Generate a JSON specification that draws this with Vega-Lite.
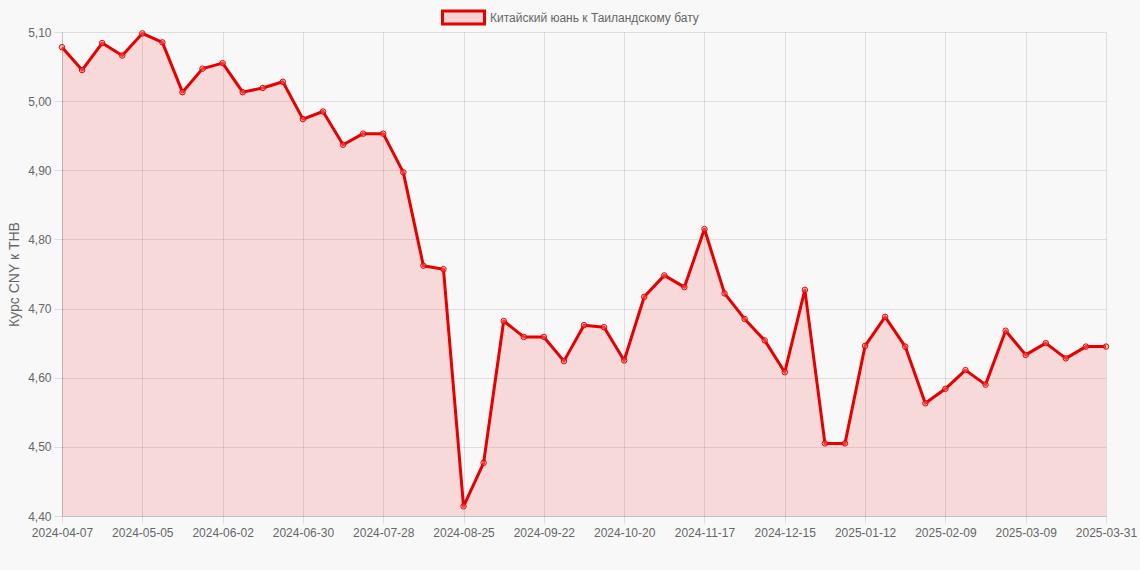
{
  "$schema": "https://vega.github.io/schema/vega-lite/v6.json",
  "width": 1044,
  "height": 484,
  "autosize": {"type": "none"},
  "padding": {"left": 62, "top": 32, "right": 34, "bottom": 54},
  "background": "#f8f8f8",
  "config": {
    "font": "Liberation Sans",
    "view": {"stroke": null},
    "axis": {
      "labelFont": "Liberation Sans",
      "labelFontSize": 12,
      "labelColor": "#666666",
      "titleFont": "Liberation Sans",
      "titleFontSize": 14,
      "titleFontWeight": "normal",
      "titleColor": "#666666",
      "gridColor": "#000000",
      "gridOpacity": 0.1,
      "tickColor": "#000000",
      "tickOpacity": 0.1,
      "domainColor": "#000000",
      "domainOpacity": 0.12
    }
  },
  "data": {
    "values": [
      {"date": "2024-04-07", "rate": 5.078, "series": "Китайский юань к Таиландскому бату"},
      {"date": "2024-04-14", "rate": 5.045, "series": "Китайский юань к Таиландскому бату"},
      {"date": "2024-04-21", "rate": 5.084, "series": "Китайский юань к Таиландскому бату"},
      {"date": "2024-04-28", "rate": 5.066, "series": "Китайский юань к Таиландскому бату"},
      {"date": "2024-05-05", "rate": 5.098, "series": "Китайский юань к Таиландскому бату"},
      {"date": "2024-05-12", "rate": 5.085, "series": "Китайский юань к Таиландскому бату"},
      {"date": "2024-05-19", "rate": 5.013, "series": "Китайский юань к Таиландскому бату"},
      {"date": "2024-05-26", "rate": 5.047, "series": "Китайский юань к Таиландскому бату"},
      {"date": "2024-06-02", "rate": 5.055, "series": "Китайский юань к Таиландскому бату"},
      {"date": "2024-06-09", "rate": 5.013, "series": "Китайский юань к Таиландскому бату"},
      {"date": "2024-06-16", "rate": 5.019, "series": "Китайский юань к Таиландскому бату"},
      {"date": "2024-06-23", "rate": 5.028, "series": "Китайский юань к Таиландскому бату"},
      {"date": "2024-06-30", "rate": 4.974, "series": "Китайский юань к Таиландскому бату"},
      {"date": "2024-07-07", "rate": 4.985, "series": "Китайский юань к Таиландскому бату"},
      {"date": "2024-07-14", "rate": 4.937, "series": "Китайский юань к Таиландскому бату"},
      {"date": "2024-07-21", "rate": 4.953, "series": "Китайский юань к Таиландскому бату"},
      {"date": "2024-07-28", "rate": 4.953, "series": "Китайский юань к Таиландскому бату"},
      {"date": "2024-08-04", "rate": 4.897, "series": "Китайский юань к Таиландскому бату"},
      {"date": "2024-08-11", "rate": 4.762, "series": "Китайский юань к Таиландскому бату"},
      {"date": "2024-08-18", "rate": 4.757, "series": "Китайский юань к Таиландскому бату"},
      {"date": "2024-08-25", "rate": 4.414, "series": "Китайский юань к Таиландскому бату"},
      {"date": "2024-09-01", "rate": 4.477, "series": "Китайский юань к Таиландскому бату"},
      {"date": "2024-09-08", "rate": 4.682, "series": "Китайский юань к Таиландскому бату"},
      {"date": "2024-09-15", "rate": 4.659, "series": "Китайский юань к Таиландскому бату"},
      {"date": "2024-09-22", "rate": 4.659, "series": "Китайский юань к Таиландскому бату"},
      {"date": "2024-09-29", "rate": 4.624, "series": "Китайский юань к Таиландскому бату"},
      {"date": "2024-10-06", "rate": 4.676, "series": "Китайский юань к Таиландскому бату"},
      {"date": "2024-10-13", "rate": 4.673, "series": "Китайский юань к Таиландскому бату"},
      {"date": "2024-10-20", "rate": 4.625, "series": "Китайский юань к Таиландскому бату"},
      {"date": "2024-10-27", "rate": 4.717, "series": "Китайский юань к Таиландскому бату"},
      {"date": "2024-11-03", "rate": 4.748, "series": "Китайский юань к Таиландскому бату"},
      {"date": "2024-11-10", "rate": 4.731, "series": "Китайский юань к Таиландскому бату"},
      {"date": "2024-11-17", "rate": 4.815, "series": "Китайский юань к Таиландскому бату"},
      {"date": "2024-11-24", "rate": 4.722, "series": "Китайский юань к Таиландскому бату"},
      {"date": "2024-12-01", "rate": 4.685, "series": "Китайский юань к Таиландскому бату"},
      {"date": "2024-12-08", "rate": 4.654, "series": "Китайский юань к Таиландскому бату"},
      {"date": "2024-12-15", "rate": 4.608, "series": "Китайский юань к Таиландскому бату"},
      {"date": "2024-12-22", "rate": 4.727, "series": "Китайский юань к Таиландскому бату"},
      {"date": "2024-12-29", "rate": 4.505, "series": "Китайский юань к Таиландскому бату"},
      {"date": "2025-01-05", "rate": 4.505, "series": "Китайский юань к Таиландскому бату"},
      {"date": "2025-01-12", "rate": 4.646, "series": "Китайский юань к Таиландскому бату"},
      {"date": "2025-01-19", "rate": 4.688, "series": "Китайский юань к Таиландскому бату"},
      {"date": "2025-01-26", "rate": 4.645, "series": "Китайский юань к Таиландскому бату"},
      {"date": "2025-02-02", "rate": 4.563, "series": "Китайский юань к Таиландскому бату"},
      {"date": "2025-02-09", "rate": 4.584, "series": "Китайский юань к Таиландскому бату"},
      {"date": "2025-02-16", "rate": 4.611, "series": "Китайский юань к Таиландскому бату"},
      {"date": "2025-02-23", "rate": 4.590, "series": "Китайский юань к Таиландскому бату"},
      {"date": "2025-03-02", "rate": 4.668, "series": "Китайский юань к Таиландскому бату"},
      {"date": "2025-03-09", "rate": 4.633, "series": "Китайский юань к Таиландскому бату"},
      {"date": "2025-03-16", "rate": 4.650, "series": "Китайский юань к Таиландскому бату"},
      {"date": "2025-03-23", "rate": 4.628, "series": "Китайский юань к Таиландскому бату"},
      {"date": "2025-03-30", "rate": 4.645, "series": "Китайский юань к Таиландскому бату"},
      {"date": "2025-03-31", "rate": 4.645, "series": "Китайский юань к Таиландскому бату"}
    ]
  },
  "encoding": {
    "x": {
      "field": "date",
      "type": "ordinal",
      "scale": {"type": "point", "padding": 0},
      "axis": {
        "title": null,
        "labelAngle": 0,
        "grid": true,
        "tickSize": 7,
        "labelPadding": 4,
        "values": ["2024-04-07", "2024-05-05", "2024-06-02", "2024-06-30", "2024-07-28", "2024-08-25", "2024-09-22", "2024-10-20", "2024-11-17", "2024-12-15", "2025-01-12", "2025-02-09", "2025-03-09", "2025-03-31"]
      }
    },
    "y": {
      "field": "rate",
      "type": "quantitative",
      "scale": {"domain": [4.4, 5.1], "nice": false, "zero": false},
      "axis": {
        "title": "Курс CNY к THB",
        "titlePadding": 6,
        "tickSize": 8,
        "labelPadding": 3,
        "values": [4.4, 4.5, 4.6, 4.7, 4.8, 4.9, 5.0, 5.1],
        "labelExpr": "replace(format(datum.value, '.2f'), '.', ',')"
      }
    }
  },
  "layer": [
    {
      "mark": {"type": "area", "color": "#ff0000", "fillOpacity": 0.12},
      "encoding": {"y2": {"datum": 4.4}}
    },
    {
      "mark": {"type": "line", "strokeWidth": 3, "strokeJoin": "round"},
      "encoding": {
        "color": {
          "field": "series",
          "type": "nominal",
          "scale": {"range": ["#e60000"]},
          "legend": {
            "title": null,
            "orient": "none",
            "legendX": 379,
            "legendY": -37,
            "padding": 0,
            "symbolType": "M-1,-0.31H1V0.31H-1Z",
            "symbolSize": 1764,
            "labelFont": "Liberation Sans",
            "labelFontSize": 12,
            "labelColor": "#666666",
            "labelOffset": 4,
            "labelLimit": 0,
            "encode": {
              "symbols": {
                "update": {
                  "fill": {"value": "#f8d3d3"},
                  "stroke": {"value": "#e60000"},
                  "strokeWidth": {"value": 3},
                  "opacity": {"value": 1}
                }
              }
            }
          }
        }
      }
    },
    {
      "mark": {"type": "point", "filled": false, "shape": "circle", "size": 30, "stroke": "#e60000", "strokeWidth": 1, "fill": "#ff9999", "fillOpacity": 0.35, "opacity": 1}
    }
  ]
}
